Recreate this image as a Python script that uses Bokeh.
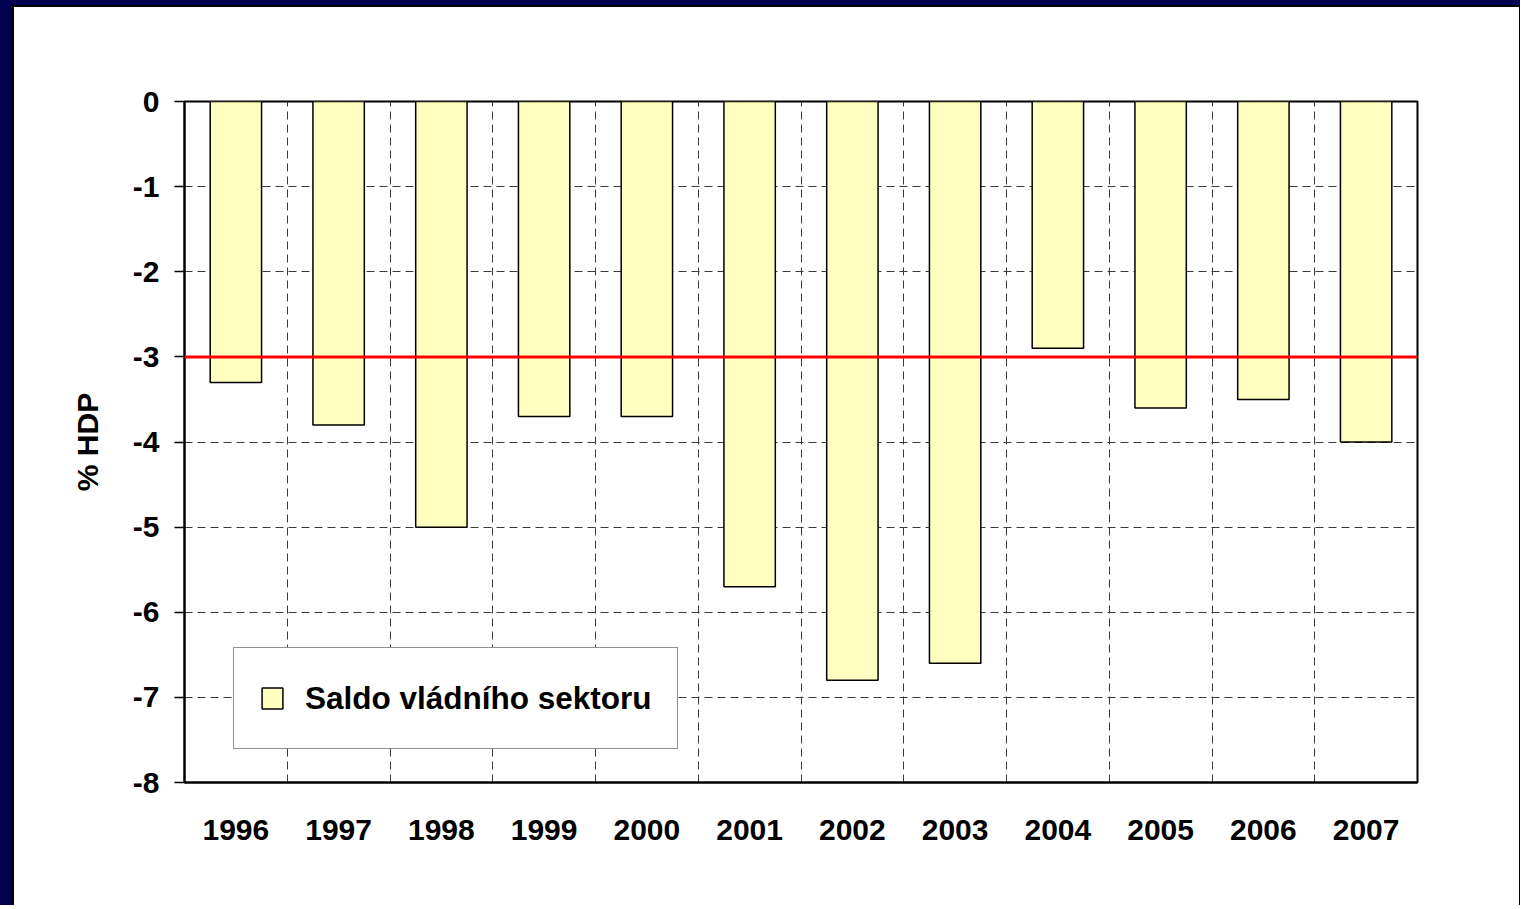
from bokeh.plotting import figure
from bokeh.models import Range1d, FixedTicker, Span, Legend, LegendItem, ColumnDataSource
from bokeh.embed import file_html
from bokeh.resources import INLINE

# ---- data ----
years = ["1996", "1997", "1998", "1999", "2000", "2001",
         "2002", "2003", "2004", "2005", "2006", "2007"]
saldo = [-3.3, -3.8, -5.0, -3.7, -3.7, -5.7, -6.8, -6.6, -2.9, -3.6, -3.5, -4.0]
y_ticks = [0, -1, -2, -3, -4, -5, -6, -7, -8]
y_tick_labels = ["0", "-1", "-2", "-3", "-4", "-5", "-6", "-7", "-8"]
limit = -3.0
series_label = "Saldo vládního sektoru"
y_label = "% HDP"

FONT = "Liberation Sans"
FS = "30px"

pos = list(range(len(years)))
source = ColumnDataSource(dict(x=pos, year=years, saldo=saldo))

frame_css = ("linear-gradient(#000,#000) 12px 5px/2px 909px no-repeat,"
             "linear-gradient(#000,#000) 12px 5px/1508px 2px no-repeat,"
             "linear-gradient(#000,#000) 1519px 5px/1px 909px no-repeat,"
             "linear-gradient(#000050,#000050) 0 0/12px 909px no-repeat,"
             "linear-gradient(#000050,#000050) 0 0/1521px 5px no-repeat,"
             "#ffffff")

p = figure(width=1520, height=905,
           x_range=Range1d(-0.5, len(years) - 0.5),
           y_range=Range1d(min(y_ticks), max(y_ticks)),
           output_backend="svg", toolbar_location=None,
           min_border_left=184, min_border_right=103,
           min_border_top=101, min_border_bottom=123,
           background_fill_color="white", border_fill_color=None,
           outline_line_color="black", outline_line_width=2,
           styles={"background": frame_css})

# grids: vertical between categories, horizontal at integer values
p.xgrid.ticker = FixedTicker(ticks=[i + 0.5 for i in pos[:-1]])
p.ygrid.ticker = FixedTicker(ticks=y_ticks[1:-1])
for g in (p.xgrid, p.ygrid):
    g.grid_line_color = "#3a3a3a"
    g.grid_line_width = 1
    g.grid_line_dash = "8 5"

# x axis
p.xaxis.ticker = FixedTicker(ticks=pos)
p.xaxis.major_label_overrides = {i: y for i, y in zip(pos, years)}
p.xaxis.major_tick_out = 0
p.xaxis.major_tick_in = 0
p.xaxis.minor_tick_out = 0
p.xaxis.minor_tick_in = 0
p.xaxis.major_label_standoff = 37

# y axis
p.yaxis.ticker = FixedTicker(ticks=y_ticks)
p.yaxis.major_label_overrides = {v: s for v, s in zip(y_ticks, y_tick_labels)}
p.yaxis.major_tick_out = 10
p.yaxis.major_tick_in = 0
p.yaxis.minor_tick_out = 0
p.yaxis.minor_tick_in = 0
p.yaxis.major_label_standoff = 15
p.yaxis.axis_label = y_label
p.yaxis.axis_label_standoff = 26
p.yaxis.axis_label_text_font = FONT
p.yaxis.axis_label_text_font_size = FS
p.yaxis.axis_label_text_font_style = "bold"
p.yaxis.axis_label_text_color = "black"

for ax in (p.xaxis, p.yaxis):
    ax.axis_line_color = "black"
    ax.axis_line_width = 2
    ax.major_tick_line_color = "black"
    ax.major_tick_line_width = 1.5
    ax.major_label_text_font = FONT
    ax.major_label_text_font_size = FS
    ax.major_label_text_font_style = "bold"
    ax.major_label_text_color = "black"

bars = p.vbar(x="x", top=0, bottom="saldo", width=0.5, source=source,
              fill_color="#FFFFC0", line_color="black", line_width=1.5)

p.add_layout(Span(location=limit, dimension="width",
                  line_color="#FF0000", line_width=3))

legend = Legend(items=[LegendItem(label=series_label, renderers=[bars])],
                location=(49, 33), orientation="vertical",
                padding=25, margin=0, spacing=0,
                glyph_width=26, glyph_height=26, label_standoff=20,
                label_height=50,
                label_text_font=FONT, label_text_font_size="31.5px",
                label_text_font_style="bold", label_text_color="black",
                background_fill_color="white", background_fill_alpha=1.0,
                border_line_color="#222222", border_line_width=1)
p.add_layout(legend)

open("out.html", "w", encoding="utf-8").write(file_html(p, INLINE, title="Saldo vládního sektoru"))
